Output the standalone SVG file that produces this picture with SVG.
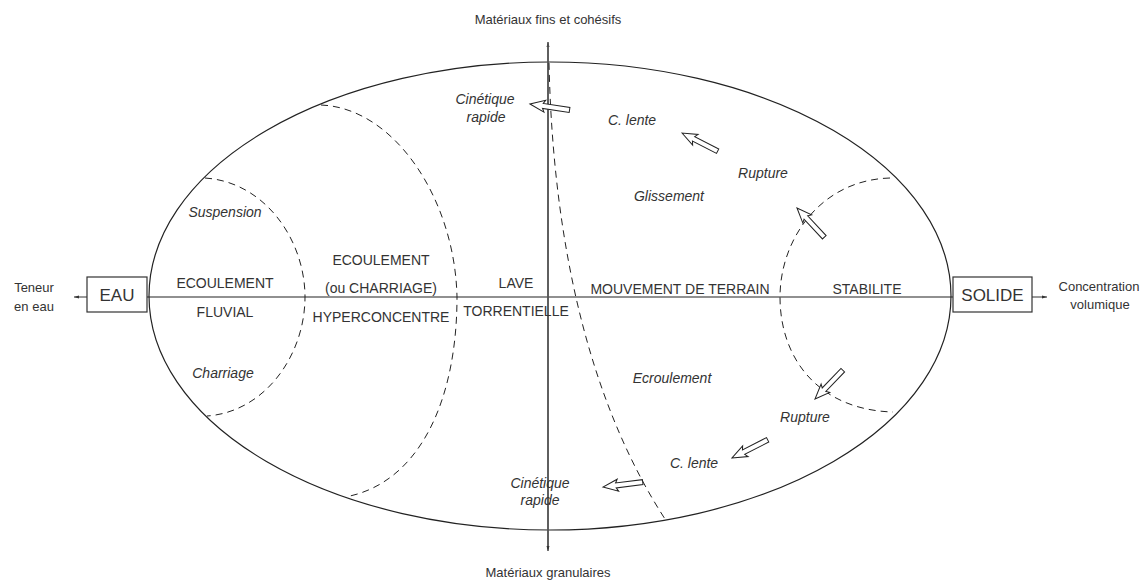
<svg xmlns="http://www.w3.org/2000/svg" width="1147" height="580" viewBox="0 0 1147 580">
<style>
text{font-family:"Liberation Sans",Arial,sans-serif;fill:#333}
.cap{font-size:14px;text-anchor:middle}
.it{font-size:14px;font-style:italic;text-anchor:middle}
.ax{font-size:13px;text-anchor:middle}
.box{fill:#fff;stroke:#333;stroke-width:1.2}
.ln{fill:none;stroke:#222;stroke-width:1.2}
.dash{fill:none;stroke:#222;stroke-width:1;stroke-dasharray:7 5}
.ha{fill:#fff;stroke:#222;stroke-width:1}
</style>
<defs>
<path id="harrow" d="M0,0 L-15,-6 L-13,-2.5 L-40,-2.5 L-40,2.5 L-13,2.5 L-15,6 Z"/>
<marker id="ah" viewBox="0 0 10 10" refX="10" refY="5" markerWidth="5" markerHeight="5" orient="auto" markerUnits="userSpaceOnUse">
<path d="M0,2 L10,5 L0,8 Z" fill="#333"/>
</marker>
</defs>

<g id="ellipse-frame">
<ellipse cx="550" cy="296" rx="401" ry="234" class="ln"/>
</g>

<g id="connectors">
<line x1="147" y1="297" x2="953" y2="297" class="ln"/>
<line x1="87" y1="297" x2="74" y2="297" stroke="#333" stroke-width="1" marker-end="url(#ah)"/>
<line x1="1032" y1="297" x2="1047" y2="297" stroke="#333" stroke-width="1" marker-end="url(#ah)"/>
<line x1="548" y1="549" x2="548" y2="42" stroke="#555" stroke-width="1.5" marker-end="url(#ah)"/>
<line x1="548" y1="44" x2="548" y2="551" stroke="#555" stroke-width="1.5" marker-end="url(#ah)"/>
<path class="dash" d="M205 178 C265 182 305 240 305 297 C305 355 265 412 207 416"/>
<path class="dash" d="M321 105 C395 108 455 200 457 297 C457 400 420 480 350 496"/>
<path class="dash" d="M549 63 C552 200 575 380 665 519"/>
<path class="dash" d="M890 178 C820 180 780 240 780 297 C780 360 820 410 893 412"/>
<use href="#harrow" class="ha" transform="translate(530,104) rotate(188.5)"/>
<use href="#harrow" class="ha" transform="translate(682,133) rotate(207)"/>
<use href="#harrow" class="ha" transform="translate(797,208) rotate(227)"/>
<use href="#harrow" class="ha" transform="translate(815,399) rotate(134)"/>
<use href="#harrow" class="ha" transform="translate(732,458) rotate(153)"/>
<use href="#harrow" class="ha" transform="translate(603,487) rotate(173)"/>
</g>

<g id="node-eau">
<rect x="87" y="277" width="60" height="35" class="box"/>
<text x="117" y="301" font-size="17" text-anchor="middle">EAU</text>
</g>
<g id="node-solide">
<rect x="953" y="277" width="79" height="35" class="box"/>
<text x="992.5" y="301" font-size="17" text-anchor="middle">SOLIDE</text>
</g>

<g id="label-teneur">
<text x="34" y="292" class="ax">Teneur</text>
<text x="34" y="311" class="ax">en eau</text>
</g>
<g id="label-concentration">
<text x="1099" y="291" class="ax">Concentration</text>
<text x="1100" y="309" class="ax">volumique</text>
</g>
<g id="label-top"><text x="548" y="24" class="ax">Matériaux fins et cohésifs</text></g>
<g id="label-bottom"><text x="548" y="577" class="ax">Matériaux granulaires</text></g>

<g id="region-fluvial">
<text x="225" y="217" class="it">Suspension</text>
<text x="225" y="288" class="cap">ECOULEMENT</text>
<text x="225" y="317" class="cap">FLUVIAL</text>
<text x="223" y="378" class="it">Charriage</text>
</g>
<g id="region-hyper">
<text x="381" y="265" class="cap">ECOULEMENT</text>
<text x="381" y="293" class="cap">(ou CHARRIAGE)</text>
<text x="381" y="322" class="cap">HYPERCONCENTRE</text>
</g>
<g id="region-lave">
<text x="516" y="288" class="cap">LAVE</text>
<text x="516" y="316" class="cap">TORRENTIELLE</text>
</g>
<g id="region-mouvement">
<text x="680" y="294" class="cap">MOUVEMENT DE TERRAIN</text>
<text x="485" y="104" class="it">Cinétique</text>
<text x="486" y="122" class="it">rapide</text>
<text x="632" y="125" class="it">C. lente</text>
<text x="763" y="178" class="it">Rupture</text>
<text x="669" y="201" class="it">Glissement</text>
<text x="672" y="383" class="it">Ecroulement</text>
<text x="805" y="422" class="it">Rupture</text>
<text x="694" y="468" class="it">C. lente</text>
<text x="540" y="488" class="it">Cinétique</text>
<text x="540" y="505" class="it">rapide</text>
</g>
<g id="region-stabilite">
<text x="867" y="294" class="cap">STABILITE</text>
</g>
</svg>
